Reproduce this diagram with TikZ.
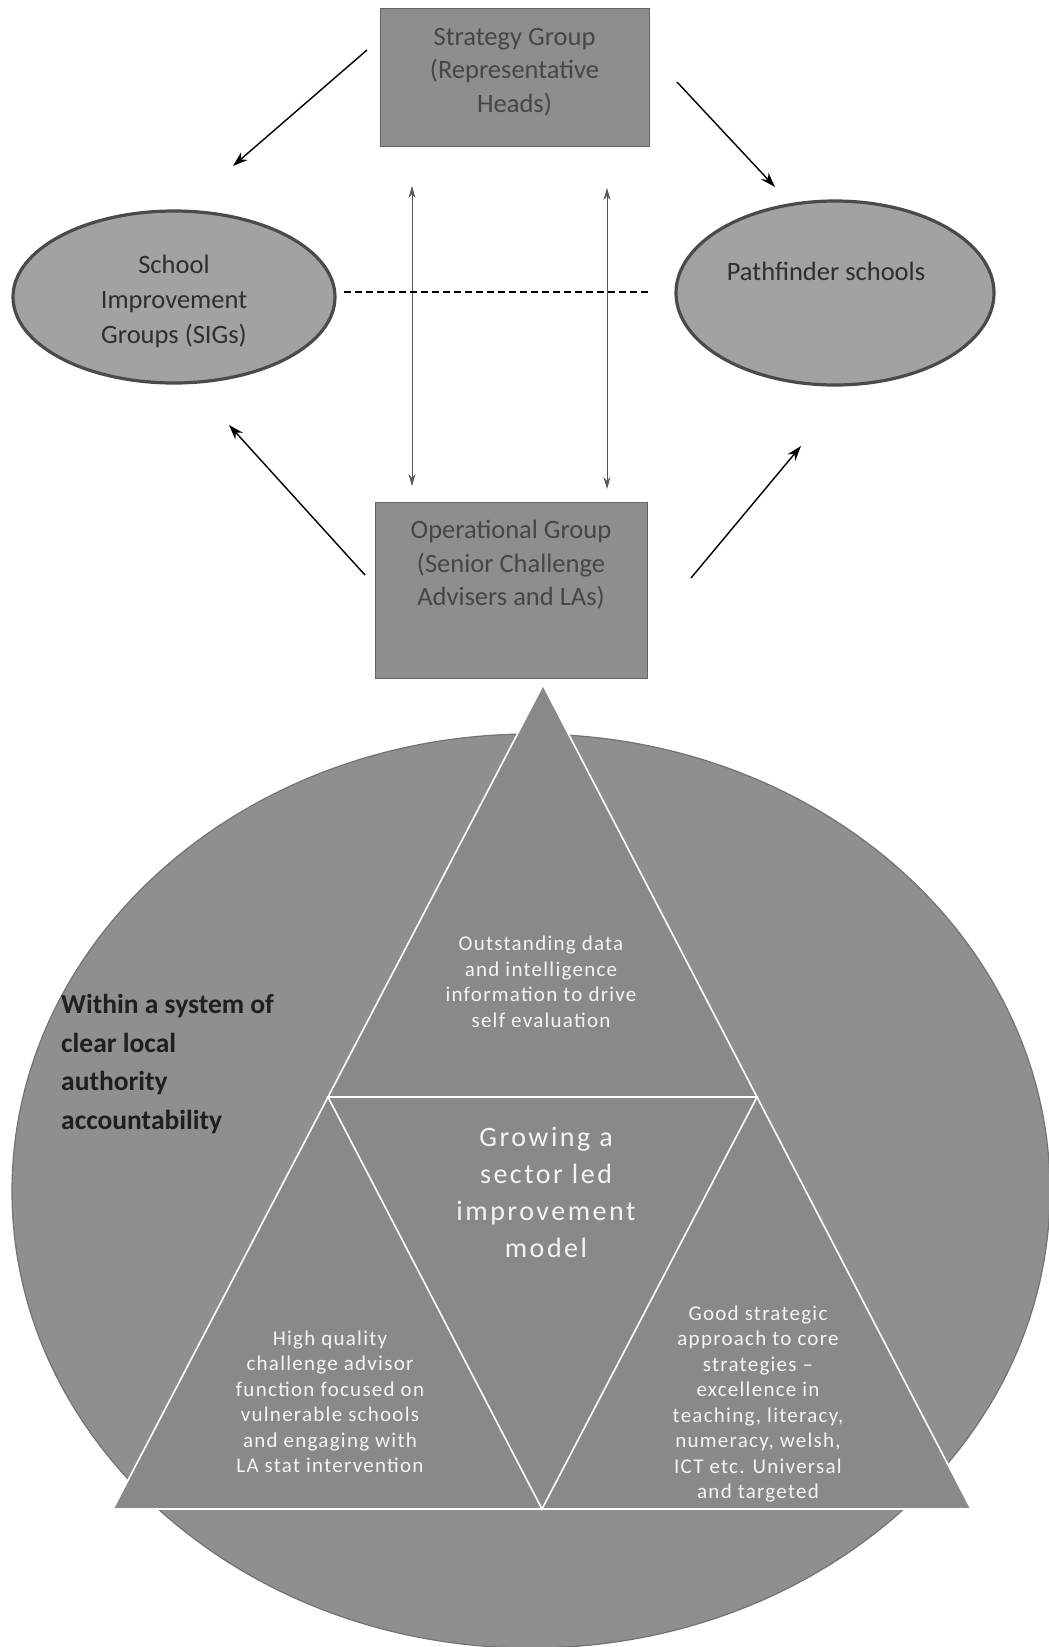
\documentclass[tikz,border=0pt]{standalone}
\usepackage{fontspec}
\setmainfont{Carlito}
\newfontfamily\widefont[LetterSpace=6]{Carlito}
\newfontfamily\growfont[LetterSpace=9]{Carlito}
\usetikzlibrary{shapes.geometric,arrows.meta,calc}
\definecolor{boxgray}{HTML}{8E8E8E}
\definecolor{boxtextc}{HTML}{464646}
\definecolor{ellgray}{HTML}{A2A2A2}
\definecolor{ellborder}{HTML}{4A4A4A}
\definecolor{bigfill}{HTML}{8F8F8F}
\definecolor{trifill}{HTML}{898989}
\definecolor{tritext}{HTML}{F4F4F4}
\tikzset{
  boxnode/.style={rectangle, fill=boxgray, draw=boxgray!70!black, line width=0.6pt, inner sep=0pt},
  boxtext/.style={align=center, text=boxtextc, font=\fontsize{26.5}{33.5}\selectfont, inner sep=0pt},
  ellnode/.style={ellipse, fill=ellgray, draw=ellborder, line width=3.2pt, inner sep=0pt},
  elltext/.style={align=center, text=black!82, font=\fontsize{26.5}{35}\selectfont, inner sep=0pt},
  arr/.style={-{Stealth[length=15pt,width=10pt]}, line width=1.4pt, black},
  dblarr/.style={{Stealth[length=12pt,width=7pt]}-{Stealth[length=12pt,width=7pt]}, line width=0.9pt, black!65},
  dashline/.style={dashed, dash pattern=on 7pt off 4pt, line width=2.2pt, black},
  tritxt/.style={align=center, text=tritext, font=\widefont\fontsize{21}{25.5}\selectfont, inner sep=0pt},
}
\begin{document}
\begin{tikzpicture}[x=1pt,y=-1pt]
\useasboundingbox (0,0) rectangle (1049,1647);
\fill[white] (0,0) rectangle (1049,1647);

% big system ellipse
\node[ellipse, fill=bigfill, draw=black!55, line width=1.2pt, minimum width=1038pt, minimum height=914pt, inner sep=0pt] (sys) at (531,1191) {};

% boxes
\node[boxnode, minimum width=269pt, minimum height=138pt] (strat) at (514.5,77) {};
\node[boxtext] (strattxt) at (514.5,72) {Strategy Group\\(Representative\\Heads)};
\node[boxnode, minimum width=272pt, minimum height=176pt] (oper) at (511,590) {};
\node[boxtext] (opertxt) at (511,565) {Operational Group\\(Senior Challenge\\Advisers and LAs)};

% ellipses
\node[ellnode, minimum width=322pt, minimum height=172pt] (sig) at (174,297) {};
\node[elltext] (sigtxt) at (174,301) {School\\Improvement\\Groups (SIGs)};
\node[ellnode, minimum width=318pt, minimum height=184pt] (path) at (835,293) {};
\node[elltext] (pathtxt) at (826,271) {Pathfinder schools};

% connector end points
\coordinate (s1) at (367,50);
\coordinate (s1e) at (233,166);
\coordinate (s2) at (677,82);
\coordinate (s2e) at (775,187);
\coordinate (o1) at (365,575);
\coordinate (o1e) at (229,425);
\coordinate (o2) at (691,578);
\coordinate (o2e) at (801,446);
\coordinate (v1a) at (412,186);
\coordinate (v1b) at (412,486);
\coordinate (v2a) at (607,188);
\coordinate (v2b) at (607,489);
\coordinate (da) at (344,292);
\coordinate (db) at (651,292);

\draw[arr] (s1) -- (s1e);
\draw[arr] (s2) -- (s2e);
\draw[arr] (o1) -- (o1e);
\draw[arr] (o2) -- (o2e);
\draw[dblarr] (v1a) -- (v1b);
\draw[dblarr] (v2a) -- (v2b);
\draw[dashline] (da) -- (db);

% triangle
\coordinate (tA) at (543,685);
\coordinate (tB) at (113,1509);
\coordinate (tC) at (971,1509);
\coordinate (mAB) at ($(tA)!0.5!(tB)$);
\coordinate (mAC) at ($(tA)!0.5!(tC)$);
\coordinate (mBC) at ($(tB)!0.5!(tC)$);
\fill[trifill] (tA) -- (tB) -- (tC) -- cycle;
\draw[white, line width=1.6pt, line join=miter] (tA) -- (tB) -- (tC) -- cycle;
\draw[white, line width=1.6pt] (mAB) -- (mAC) -- (mBC) -- cycle;

% texts
\node[tritxt] (toptxt) at (541,982) {Outstanding data\\and intelligence\\information to drive\\self evaluation};
\node[align=center, text=tritext, font=\growfont\fontsize{28}{37}\selectfont, inner sep=0pt] (growtxt) at (546,1192) {Growing a\\sector led\\improvement\\model};
\node[tritxt] (lefttxt) at (330,1402) {High quality\\challenge advisor\\function focused on\\vulnerable schools\\and engaging with\\LA stat intervention};
\node[tritxt] (righttxt) at (758,1404) {Good strategic\\approach to core\\strategies –\\excellence in\\teaching, literacy,\\numeracy, welsh,\\ICT etc. Universal\\and targeted};
\node[align=left, anchor=west, text=black!88, font=\bfseries\fontsize{27.5}{38.5}\selectfont, inner sep=0pt] (within) at (61,1064) {Within a system of\\clear local\\authority\\accountability};
\end{tikzpicture}
\end{document}
